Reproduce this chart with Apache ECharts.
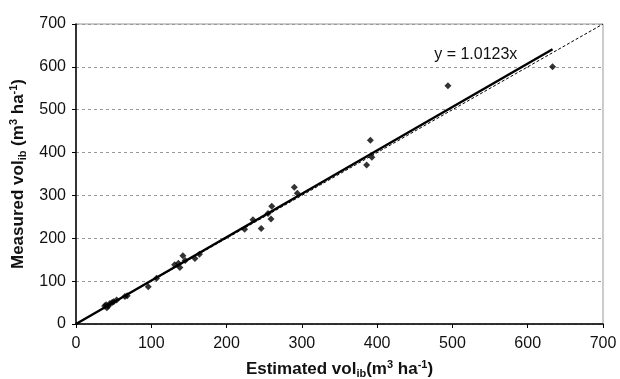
<!DOCTYPE html>
<html lang="en" style="height: 100%;margin: 0;">
<head>
    <meta charset="UTF-8">
    <title>chart</title>
</head>
<body style="height: 100%;margin: 0;background: #fff;">
<div id="chart" style="width: 620px;height: 379px;margin: 0;"></div>
<script src="https://cdn.jsdelivr.net/npm/echarts@6/dist/echarts.min.js"></script>
<script>
    // estimated vs measured volume
    var estimated = [38, 40, 41, 43, 45, 48, 50, 54, 65, 68, 96, 107, 131, 136, 138, 142, 145, 158, 164,
        224, 235, 246, 255, 259, 260, 290, 294, 386, 391, 393, 494, 633];
    var measured = [42, 45, 38, 42, 48, 50, 52, 56, 64, 66, 87, 107, 138, 142, 132, 159, 148, 153, 163,
        221, 243, 223, 258, 245, 275, 319, 305, 371, 429, 389, 556, 600];
    var trendX = [0, 633];
    var trendY = [0, 641];
    var oneToOne = [0, 700];
    var ticks = [0, 100, 200, 300, 400, 500, 600, 700];
    var equation = "y = 1.0123x";
    var labelPos = [531, 628];

    var myChart = echarts.init(document.getElementById("chart"), null, {renderer: 'canvas'});

    var points = [];
    for (var i = 0; i < estimated.length; i++) {
        points.push([estimated[i], measured[i]]);
    }
    var trend = [];
    for (var j = 0; j < trendX.length; j++) {
        trend.push([trendX[j], trendY[j]]);
    }
    var diag = [[oneToOne[0], oneToOne[0]], [oneToOne[1], oneToOne[1]]];

    var font = "Liberation Sans, Arial, sans-serif";
    var nameRich = {
        b: {fontFamily: font, fontWeight: 'bold', fontSize: 17, color: '#111'},
        sub: {fontFamily: font, fontWeight: 'bold', fontSize: 11, color: '#111', padding: [9, 0, 0, 0]},
        sup: {fontFamily: font, fontWeight: 'bold', fontSize: 11, color: '#111', padding: [0, 0, 9, 0]}
    };

    var axisCommon = {
        type: 'value',
        min: ticks[0],
        max: ticks[ticks.length - 1],
        interval: 100,
        axisLine: {show: true, lineStyle: {color: '#000', width: 1.5}},
        axisTick: {show: true, inside: false, length: 4, lineStyle: {color: '#000'}},
        axisLabel: {fontFamily: font, fontSize: 16, color: '#111'}
    };

    var option = {
        animation: false,
        backgroundColor: '#fff',
        grid: {
            left: 76, right: 17, top: 24, bottom: 55,
            outerBoundsMode: 'none', containLabel: false,
            show: true, borderColor: '#999', borderWidth: 1
        },
        xAxis: Object.assign({}, axisCommon, {
            axisLabel: {fontFamily: font, fontSize: 16, color: '#111', margin: 12},
            splitLine: {show: false},
            name: '{b|Estimated vol}{sub|ib}{b|(m}{sup|3}{b| ha}{sup|-1}{b|)}',
            nameLocation: 'middle',
            nameGap: 35,
            nameTextStyle: {rich: nameRich}
        }),
        yAxis: Object.assign({}, axisCommon, {
            axisLabel: {fontFamily: font, fontSize: 16, color: '#111', margin: 10},
            splitLine: {show: true, lineStyle: {color: '#999', type: [3, 3], width: 1}},
            name: '{b|Measured vol}{sub|ib}{b| (m}{sup|3}{b| ha}{sup|-1}{b|)}',
            nameLocation: 'middle',
            nameGap: 48,
            nameRotate: 90,
            nameTextStyle: {rich: nameRich}
        }),
        series: [
            {
                type: 'line',
                data: trend,
                symbol: 'none',
                lineStyle: {color: '#000', width: 2.5},
                z: 3,
                markPoint: {
                    symbolSize: 0,
                    label: {show: true, formatter: equation, fontFamily: font, fontSize: 16, color: '#111'},
                    data: [{coord: labelPos}]
                }
            },
            {
                type: 'line',
                data: diag,
                symbol: 'none',
                lineStyle: {color: '#000', width: 1, type: [3, 2]},
                z: 4
            },
            {
                type: 'scatter',
                data: points,
                symbol: 'diamond',
                symbolSize: 7,
                itemStyle: {color: '#000'},
                z: 5
            }
        ]
    };

    myChart.setOption(option, true);
</script>
</body>
</html>
